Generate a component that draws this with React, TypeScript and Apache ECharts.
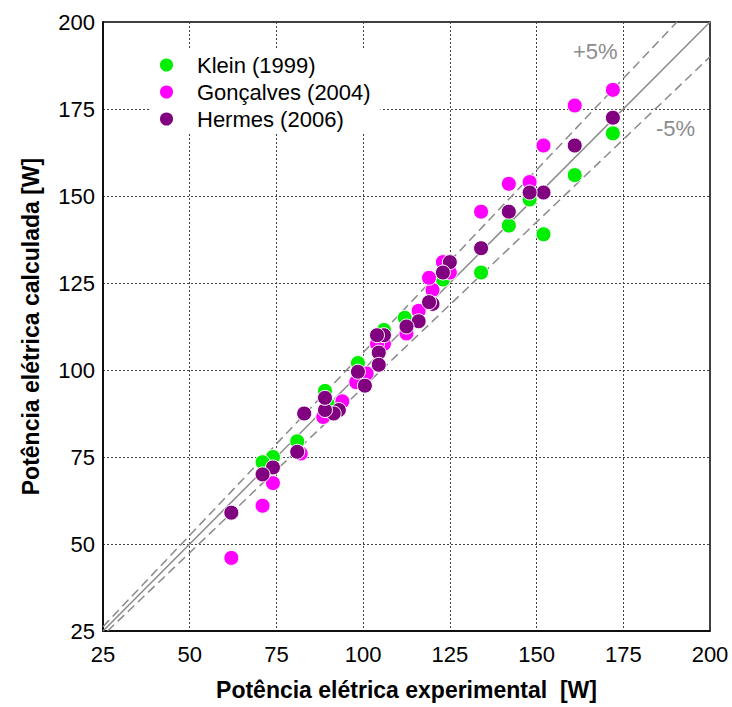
import React, { useEffect, useRef } from "react";
import * as echarts from "echarts";

const AXIS_TICKS = [25, 50, 75, 100, 125, 150, 175, 200];

const kleinData: [number, number][] = [
  [172, 168], [161, 156], [152, 139], [148, 149], [142, 141.5], [134, 128],
  [123, 126], [112, 115], [106, 111.5], [98.5, 102], [90, 90], [89, 94],
  [81, 79.5], [74, 75], [71, 73.5],
];

const goncalvesData: [number, number][] = [
  [172, 180.5], [161, 176], [152, 164.5], [148, 154], [142, 153.5], [134, 145.5],
  [125, 128], [123, 131], [120, 123], [119, 126.5], [116, 117], [112.5, 110.5],
  [106, 107.5], [104, 107.5], [101, 99], [98, 96.5], [94, 91], [88.5, 86.5],
  [82, 76], [74, 67.5], [71, 61], [62, 46],
];

const hermesData: [number, number][] = [
  [172, 172.5], [161, 164.5], [152, 151], [148, 151], [142, 145.5], [134, 135],
  [125, 131], [123, 128], [120, 119], [119, 119.5], [116, 114], [112.5, 112.5],
  [106, 110], [104, 110], [104.5, 105], [104.5, 101.5], [98.5, 99.5], [100.5, 95.5],
  [93, 88.5], [91.5, 87.5], [89, 88.5], [89, 92], [83, 87.5], [81, 76.5],
  [74, 72], [71, 70], [62, 59],
];

const REF_FACTORS = [1.0, 1.05, 0.95];
const AXIS_MIN = AXIS_TICKS[0];
const AXIS_MAX = AXIS_TICKS[AXIS_TICKS.length - 1];

function refLine(f: number): [number, number][] {
  const x0 = Math.max(AXIS_MIN, AXIS_MIN / f);
  const x1 = Math.min(AXIS_MAX, AXIS_MAX / f);
  return [[x0, x0 * f], [x1, x1 * f]];
}

export default function App() {
  const ref = useRef<HTMLDivElement>(null);
  useEffect(() => {
    if (!ref.current) return;
    const chart = echarts.init(ref.current, undefined, { renderer: "svg" });
    const font = "'Liberation Sans', Arial, sans-serif";
    const scatterBase = {
      type: "scatter" as const,
      symbol: "circle",
      symbolSize: 15,
      z: 5,
    };
    const axisCommon = {
      type: "value" as const,
      min: AXIS_MIN,
      max: AXIS_MAX,
      interval: 25,
      axisLine: { show: true, lineStyle: { color: "#000", width: 1.5 } },
      axisTick: { show: false },
      splitLine: { show: true, lineStyle: { color: "#444", type: [2, 2], width: 1 } },
    };
    chart.setOption({
      animation: false,
      textStyle: { fontFamily: font },
      grid: {
        left: 103,
        right: 22,
        top: 22,
        bottom: 76,
        show: true,
        containLabel: false,
        outerBoundsMode: "none",
        borderColor: "#000",
        borderWidth: 1.5,
        backgroundColor: "transparent",
      },
      legend: {
        orient: "vertical",
        left: 150,
        top: 50,
        backgroundColor: "#fff",
        padding: [4, 10, 4, 8],
        itemGap: 5,
        itemWidth: 15,
        itemHeight: 15,
        icon: "circle",
        textStyle: { fontSize: 22, color: "#000", fontFamily: font, padding: [0, 0, 0, 18] },
        data: ["Klein (1999)", "Gonçalves (2004)", "Hermes (2006)"],
      },
      xAxis: {
        ...axisCommon,
        axisLabel: { fontSize: 22, color: "#000", margin: 12, fontFamily: font },
        name: "Potência elétrica experimental  [W]",
        nameLocation: "middle",
        nameGap: 47,
        nameTextStyle: { fontSize: 23, fontWeight: "bold", color: "#000", fontFamily: font },
      },
      yAxis: {
        ...axisCommon,
        axisLabel: { fontSize: 22, color: "#000", margin: 8, fontFamily: font },
        name: "Potência elétrica calculada [W]",
        nameLocation: "middle",
        nameGap: 61,
        nameRotate: 90,
        nameTextStyle: { fontSize: 23, fontWeight: "bold", color: "#000", fontFamily: font },
      },
      graphic: [
        {
          type: "text",
          left: 573,
          top: 40,
          style: { text: "+5%", fontSize: 22, fill: "#8c8c8c", fontFamily: font },
          z: 10,
        },
        {
          type: "text",
          left: 656,
          top: 117,
          style: { text: "-5%", fontSize: 22, fill: "#8c8c8c", fontFamily: font },
          z: 10,
        },
      ],
      series: [
        ...REF_FACTORS.map((f, i) => ({
          type: "line",
          data: refLine(f),
          symbol: "none",
          silent: true,
          z: 1,
          lineStyle: {
            color: "#8a8a8a",
            width: 1.5,
            type: i === 0 ? "solid" : [9, 5],
          },
          legendHoverLink: false,
        })),
        {
          ...scatterBase,
          name: "Klein (1999)",
          data: kleinData,
          itemStyle: { color: "#00ee00", borderColor: "#fff", borderWidth: 1, opacity: 1 },
        },
        {
          ...scatterBase,
          name: "Gonçalves (2004)",
          data: goncalvesData,
          itemStyle: { color: "#ff00ff", borderColor: "#fff", borderWidth: 1, opacity: 1 },
        },
        {
          ...scatterBase,
          name: "Hermes (2006)",
          data: hermesData,
          itemStyle: { color: "#800080", borderColor: "#fff", borderWidth: 1, opacity: 1 },
        },
      ],
    });
    return () => chart.dispose();
  }, []);
  return (
    <div
      ref={ref}
      style={{ position: "absolute", left: 0, top: 0, width: 732, height: 707 }}
    />
  );
}
